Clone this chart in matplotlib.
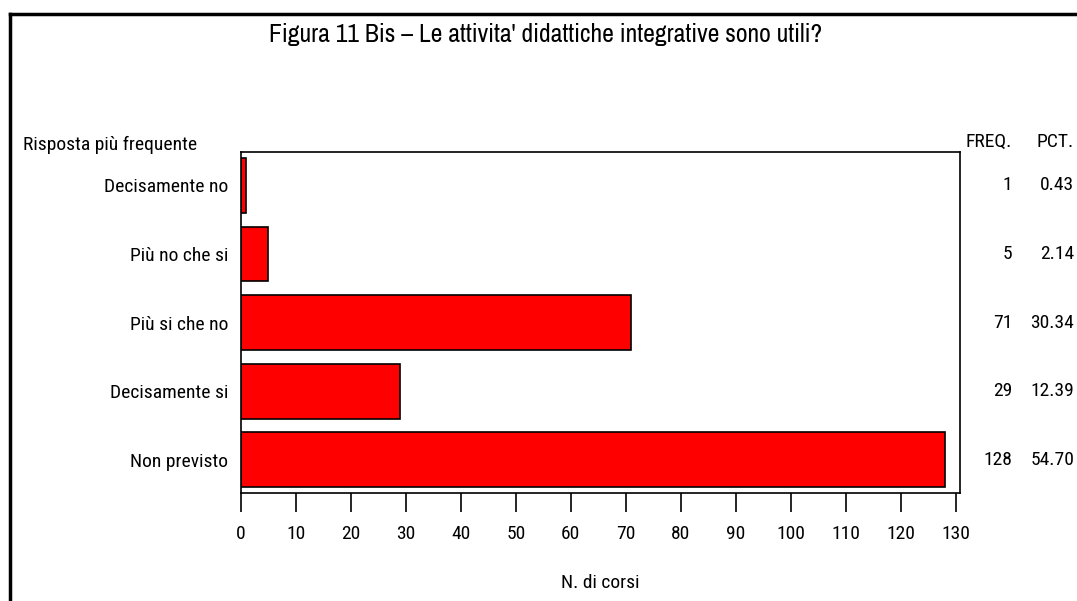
import matplotlib
matplotlib.use("Agg")
import matplotlib.pyplot as plt
from matplotlib import font_manager
from matplotlib.lines import Line2D
import matplotlib.transforms as mtrans

categories = ["Decisamente no", "Più no che si", "Più si che no", "Decisamente si", "Non previsto"]
freq = [1, 5, 71, 29, 128]
pct = [0.43, 2.14, 30.34, 12.39, 54.70]
xticks = list(range(0, 131, 10))

_names = {f.name for f in font_manager.fontManager.ttflist}

def pick(*cands):
    for c in cands:
        if c in _names:
            return c
    return "DejaVu Sans"

title_font = pick("Archivo Narrow", "PT Sans Narrow", "Roboto Condensed")
lab_font = pick("Roboto Condensed", "Archivo Narrow", "DejaVu Sans Mono")

W, H = 1077, 601
fig = plt.figure(figsize=(W / 100, H / 100), dpi=100)

def fx(px):
    return px / W

def fy(py):
    return 1 - py / H

fig.add_artist(Line2D([fx(10), 1], [fy(14), fy(14)], color="black", lw=2.5, transform=fig.transFigure))
fig.add_artist(Line2D([fx(10), fx(10)], [fy(14), 0], color="black", lw=2.5, transform=fig.transFigure))

LS = dict(fontfamily=lab_font, fontsize=14, fontweight="normal")

L, R, T, B = 241, 960, 152, 493
ax = fig.add_axes([fx(L), fy(B), fx(R - L), (B - T) / H])
ypos = list(range(len(categories)))
ax.barh(ypos, freq, height=0.8, color="#ff0000", edgecolor="black", linewidth=1.2)
ax.set_xlim(0, 130.8)
ax.set_ylim(4.485, -0.488)
ax.set_yticks(ypos)
ax.set_yticklabels(categories, **LS)
ax.tick_params(axis="y", length=0, pad=9)
ax.set_xticks(xticks)
ax.set_xticklabels([str(t) for t in xticks], **LS)
ax.tick_params(axis="x", direction="out", length=14, width=1.2, pad=9)
for s in ax.spines.values():
    s.set_linewidth(1.2)
ax.set_xlabel("N. di corsi", labelpad=22, **LS)

fig.text(fx(546), fy(34), "Figura 11 Bis \u2013 Le attivita' didattiche integrative sono utili?",
         ha="center", va="center", fontfamily=title_font, fontsize=18.5)
fig.text(fx(23), fy(145), "Risposta più frequente", ha="left", va="center", **LS)
fig.text(fx(1012), fy(142), "FREQ.", ha="right", va="center", **LS)
fig.text(fx(1074), fy(142), "PCT.", ha="right", va="center", **LS)

bt = mtrans.blended_transform_factory(fig.transFigure, ax.transData)
for i, (f, p) in enumerate(zip(freq, pct)):
    fig.text(fx(1012), i, str(f), ha="right", va="center", transform=bt, **LS)
    fig.text(fx(1074), i, f"{p:.2f}", ha="right", va="center", transform=bt, **LS)

fig.savefig("out.png", dpi=100)
